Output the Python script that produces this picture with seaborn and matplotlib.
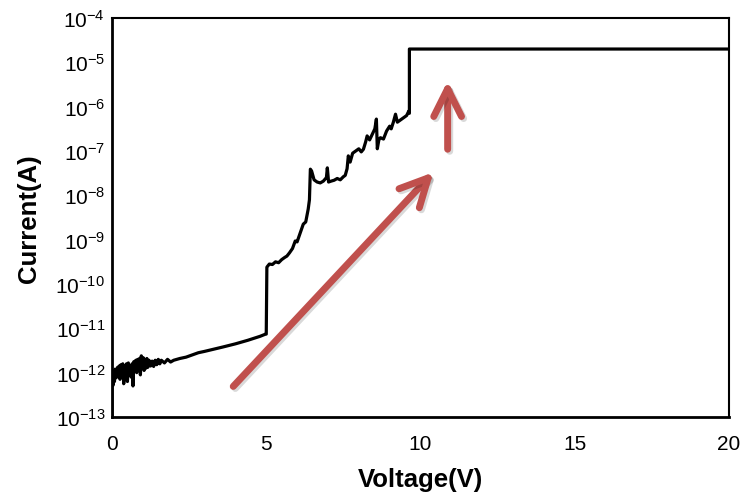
import numpy as np
import pandas as pd
import matplotlib
matplotlib.use("Agg")
import matplotlib.pyplot as plt
import matplotlib.patheffects as pe
from matplotlib.ticker import FixedLocator, FuncFormatter, NullLocator
import seaborn as sns

# ---- data (voltage in V, current as log10(A)) ----
voltage_low = [0.0, 0.0, 0.02, 0.04, 0.06, 0.08, 0.10, 0.12, 0.14, 0.16, 0.18, 0.20,
               0.23, 0.26, 0.29, 0.32, 0.35, 0.38, 0.41, 0.44, 0.47, 0.50, 0.53, 0.56,
               0.59, 0.62, 0.65, 0.68, 0.71, 0.74, 0.77, 0.80, 0.83, 0.86, 0.89, 0.92,
               0.95, 0.98, 1.01, 1.04, 1.07, 1.10, 1.13, 1.16, 1.20, 1.25, 1.30, 1.35,
               1.40, 1.45, 1.50, 1.55, 1.60, 1.70, 1.80, 1.90, 2.00, 2.20, 2.40, 2.60,
               2.80, 3.00, 3.30, 3.60, 4.00, 4.40, 4.80, 4.98]
log_current_low = [-13.0, -12.3, -12.0, -12.28, -11.98, -12.2, -11.92, -12.12, -11.95,
                   -12.05, -11.88, -12.1, -11.85, -12.15, -11.82, -12.0, -11.8, -12.25,
                   -11.85, -12.05, -11.8, -12.2, -11.78, -12.0, -11.85, -12.1, -11.8,
                   -12.3, -11.75, -11.95, -11.72, -12.0, -11.7, -11.95, -11.68, -12.05,
                   -11.62, -11.9, -11.66, -11.95, -11.7, -11.9, -11.68, -11.88, -11.72,
                   -11.85, -11.74, -11.86, -11.72, -11.82, -11.7, -11.8, -11.72, -11.78,
                   -11.7, -11.76, -11.72, -11.68, -11.65, -11.6, -11.55, -11.52, -11.47,
                   -11.42, -11.35, -11.27, -11.18, -11.13]

voltage_high = [5.00, 5.02, 5.10, 5.20, 5.30, 5.40, 5.50, 5.60, 5.67, 5.75, 5.85, 5.94,
                6.00, 6.10, 6.20, 6.28, 6.36, 6.40, 6.43, 6.47, 6.55, 6.65, 6.75, 6.85,
                6.95, 6.98, 7.02, 7.10, 7.20, 7.30, 7.40, 7.50, 7.56, 7.62, 7.66, 7.72,
                7.80, 7.90, 8.00, 8.08, 8.15, 8.22, 8.27, 8.35, 8.45, 8.52, 8.57, 8.60,
                8.65, 8.70, 8.80, 8.90, 9.00, 9.05, 9.12, 9.19, 9.25, 9.35, 9.45, 9.55,
                9.62, 9.64, 9.64, 20.0]
log_current_high = [-11.13, -9.62, -9.55, -9.56, -9.5, -9.52, -9.45, -9.4, -9.37, -9.3,
                    -9.2, -9.03, -9.05, -8.85, -8.65, -8.6, -8.31, -8.1, -7.41, -7.45,
                    -7.65, -7.7, -7.72, -7.68, -7.6, -7.38, -7.7, -7.68, -7.66, -7.62,
                    -7.65, -7.58, -7.55, -7.4, -7.11, -7.25, -7.05, -7.0, -6.95, -7.02,
                    -6.96, -6.8, -6.66, -6.75, -6.6, -6.5, -6.28, -6.95, -6.75, -6.7,
                    -6.73, -6.55, -6.44, -6.5, -6.35, -6.17, -6.35, -6.3, -6.25, -6.2,
                    -6.1, -6.15, -4.70, -4.70]

x_ticks = [0, 5, 10, 15, 20]
y_exponents = [-13, -12, -11, -10, -9, -8, -7, -6, -5, -4]

# arrows (tail -> tip), in data units (V, log10 A)
arrow_diag = ((3.93, -12.31), (10.42, -7.48))
arrow_up = ((10.88, -6.96), (10.88, -5.42))

df = pd.DataFrame({
    "Voltage": voltage_low + voltage_high,
    "Current": [10.0 ** v for v in (log_current_low + log_current_high)],
})

# ---- style ----
sns.set_theme(style="white")
plt.rcParams["font.family"] = ["Liberation Sans", "DejaVu Sans"]
plt.rcParams["mathtext.fontset"] = "custom"
plt.rcParams["mathtext.rm"] = "Liberation Sans"
plt.rcParams["mathtext.it"] = "Liberation Sans"
plt.rcParams["mathtext.default"] = "regular"
plt.rcParams["text.color"] = "black"
plt.rcParams["axes.labelcolor"] = "black"

fig = plt.figure(figsize=(7.45, 5.02), dpi=100)
ax = fig.add_axes([112 / 745, 1 - 418 / 502, (729 - 112) / 745, (418 - 19) / 502])

sns.lineplot(data=df, x="Voltage", y="Current", sort=False, estimator=None,
             color="black", linewidth=2.3, ax=ax)

ax.set_yscale("log")
ax.set_xlim(0, 20)
ax.set_ylim(1e-13, 1e-4)

ax.xaxis.set_major_locator(FixedLocator(x_ticks))
ax.yaxis.set_major_locator(FixedLocator([10.0 ** e for e in y_exponents]))
ax.yaxis.set_minor_locator(NullLocator())
ax.xaxis.set_minor_locator(NullLocator())
ax.yaxis.set_major_formatter(FuncFormatter(lambda v, p: r"$10^{%d}$" % int(round(np.log10(v)))))
ax.xaxis.set_major_formatter(FuncFormatter(lambda v, p: "%d" % v))

ax.tick_params(axis="both", which="major", direction="in", length=6, width=1.5,
               colors="black", labelsize=15)
ax.tick_params(axis="x", pad=12)
ax.tick_params(axis="y", pad=5)
ax.tick_params(top=False, right=False)

for s in ax.spines.values():
    s.set_visible(True)
    s.set_color("black")
    s.set_linewidth(2.0)
ax.spines["top"].set_linewidth(1.5)
ax.spines["right"].set_linewidth(1.5)

ax.set_xlabel("Voltage(V)", fontsize=18.5, fontweight="bold", labelpad=10, color="black")
ax.set_ylabel("Current(A)", fontsize=18.5, fontweight="bold", labelpad=10, color="black")
ax.grid(False)

red = "#C0504D"
for (tail, tip) in (arrow_diag, arrow_up):
    ann = ax.annotate("", xy=(tip[0], 10.0 ** tip[1]), xytext=(tail[0], 10.0 ** tail[1]),
                      arrowprops=dict(arrowstyle="->,head_length=1.0,head_width=0.5",
                                      color=red, lw=5, shrinkA=0, shrinkB=0,
                                      mutation_scale=20, capstyle="round",
                                      joinstyle="round"))
    ann.arrow_patch.set_path_effects([
        pe.SimpleLineShadow(offset=(1.5, -1.5), shadow_color="black", alpha=0.15),
        pe.Normal()])

fig.savefig("out.png", dpi=100)
